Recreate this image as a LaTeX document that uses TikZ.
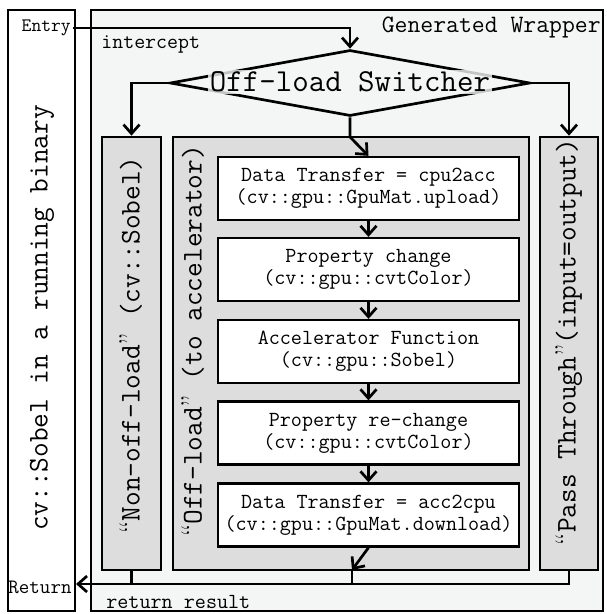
\documentclass[tikz,border=0pt]{standalone}
\usepackage{fontspec}
\usetikzlibrary{shapes.geometric,arrows.meta}
\definecolor{wrapgray}{HTML}{F4F5F5}
\definecolor{pathgray}{HTML}{DDDDDD}
\newcommand{\codesize}[1]{\ttfamily\fontsize{#1}{#1}\selectfont}
\newcommand{\openq}{{\rmfamily “}}
\newcommand{\closeq}{{\rmfamily ”}}
\tikzset{
	frame/.style={draw, inner sep=0pt},
	stage/.style={draw, fill=white, line width=2.3pt, minimum width=301, minimum height=63, align=center, inner sep=0pt, font=\ttfamily\fontsize{21.5}{22}\selectfont},
	vlabel/.style={rotate=90, inner sep=0pt, font=\codesize{28.5}}
}
\begin{document}
\begin{tikzpicture}[x=1pt, y=-1pt, line width=2.7pt, >={Straight Barb[length=9pt,width=16pt]}]
	\useasboundingbox (0,0) rectangle (607,614);
	% outer boxes
	\node (binary) at ( 41.5, 310.5)	[frame, fill = white, minimum width = 67, minimum height = 601]	{};
	\node (wrapper) at (347, 310.5)	[frame, fill = wrapgray, minimum width = 512, minimum height = 601]	{};
	\node at ( 42, 318)	[vlabel]	{cv::Sobel in a running binary};
	\node (entry) at ( 73, 28)	[anchor = east, inner sep = 1pt, font = \codesize{19}]	{Entry};
	\node at (100, 44)	[anchor = west, inner sep = 0pt, font = \codesize{21.3}]	{intercept};
	\node at (602, 27)	[anchor = east, inner sep = 0pt, font = \codesize{25}]	{Generated Wrapper};
	\node at ( 40, 587)	[inner sep = 0pt, font = \codesize{20.4}]	{Return};
	\node at (105, 602)	[anchor = west, inner sep = 0pt, font = \codesize{21.5}]	{return result};
	% switcher
	\node (switch) at (350, 83)	[diamond, draw, fill = wrapgray, inner sep = 0pt, minimum width = 360, minimum height = 66]	{};
	\node (switchtext) at (350, 82)	[fill = wrapgray, fill opacity = 0.8, text opacity = 1, inner sep = 2pt, font = \codesize{32}]	{Off-load Switcher};
	% three paths
	\node (nonoff) at (131.5, 353.5)	[frame, fill = pathgray, minimum width = 59, minimum height = 433]	{};
	\node (offload) at (351, 353.5)	[frame, fill = pathgray, minimum width = 356, minimum height = 433]	{};
	\node (pass) at (569, 353.5)	[frame, fill = pathgray, minimum width = 58, minimum height = 433]	{};
	\node at (131, 345)	[vlabel]	{\openq Non-off-load\closeq\ (cv::Sobel)};
	\node at (193, 341)	[vlabel]	{\openq Off-load\closeq\ (to accelerator)};
	\node at (569, 342)	[vlabel]	{\openq Pass Through\closeq (input=output)};
	% off-load steps
	\node (upload) at (368.5, 188.5)	[stage]	{Data Transfer = cpu2acc\\(cv::gpu::GpuMat.upload)};
	\node (convert) at (368.5, 269.5)	[stage]	{Property change\\(cv::gpu::cvtColor)};
	\node (accel) at (368.5, 351.5)	[stage]	{Accelerator Function\\(cv::gpu::Sobel)};
	\node (revert) at (368.5, 433)	[stage]	{Property re-change\\(cv::gpu::cvtColor)};
	\node (download) at (368.5, 515)	[stage]	{Data Transfer = acc2cpu\\(cv::gpu::GpuMat.download)};
	\coordinate (split) at (350, 137);
	\coordinate (merge) at (352, 570);
	\coordinate (retin) at ( 76, 584);
	% connectors
	\draw[->] (entry.east) -| (switch.north);
	\draw[->] (switch.west) -| (nonoff.north);
	\draw[->] (switch.east) -| (pass.north);
	\draw[->] (switch.south) -- (split) -- (upload.north);
	\draw[->] (upload) -- (convert);
	\draw[->] (convert) -- (accel);
	\draw[->] (accel) -- (revert);
	\draw[->] (revert) -- (download);
	\draw[->] (download.south) -- (merge);
	\draw[->] (pass.south) |- (retin);
	\draw (nonoff.south) -- (nonoff.south |- retin);
	\draw (merge) -- (merge |- retin);
\end{tikzpicture}
\end{document}
